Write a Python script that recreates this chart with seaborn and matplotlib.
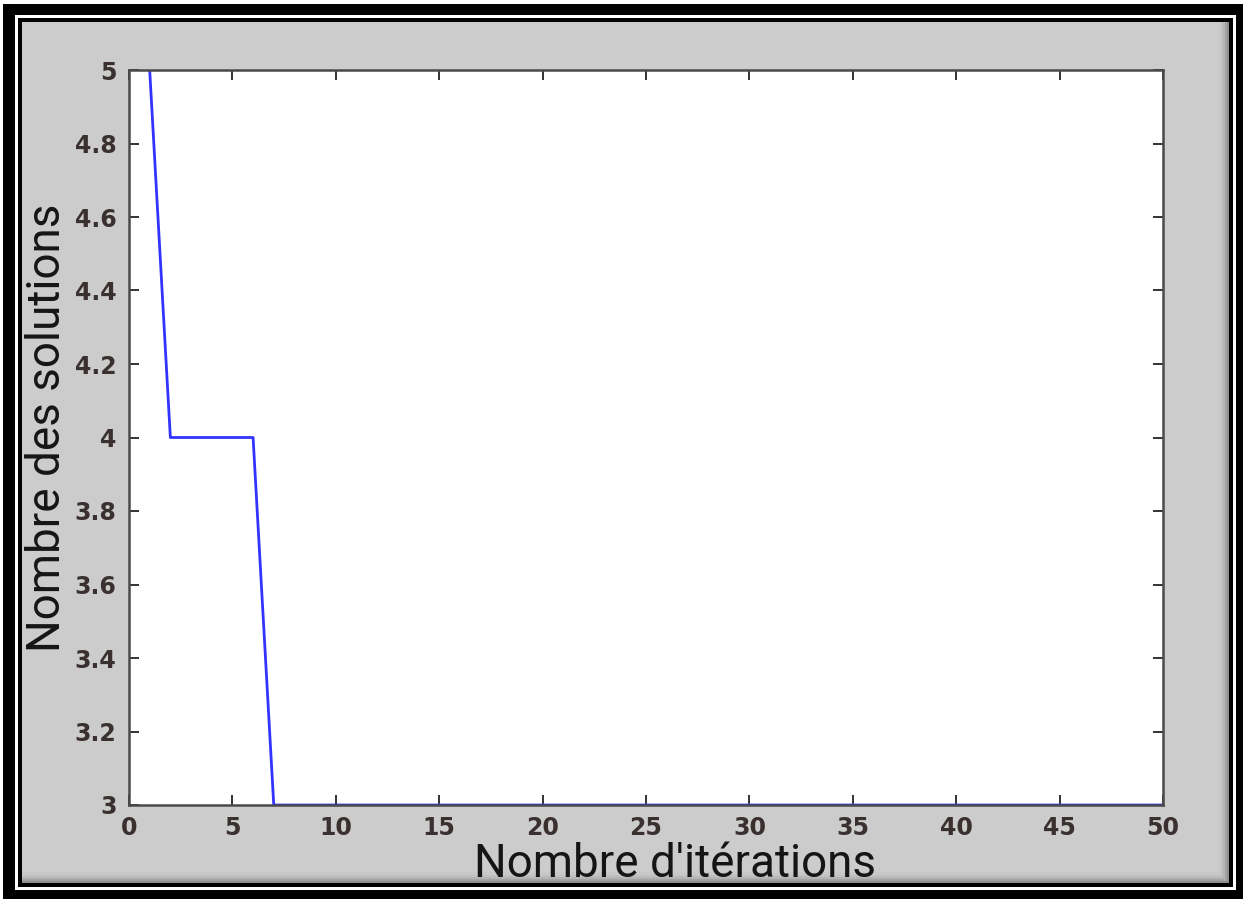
import matplotlib
matplotlib.use("Agg")
import matplotlib.pyplot as plt
from matplotlib.patches import Rectangle
import pandas as pd
import seaborn as sns

# iteration number vs number of solutions kept
iterations = list(range(1, 51))
solutions = [5] + [4] * 5 + [3] * 44

x_ticks = [0, 5, 10, 15, 20, 25, 30, 35, 40, 45, 50]
y_ticks = [3, 3.2, 3.4, 3.6, 3.8, 4, 4.2, 4.4, 4.6, 4.8, 5]
y_tick_labels = ["3", "3.2", "3.4", "3.6", "3.8", "4", "4.2", "4.4", "4.6", "4.8", "5"]

df = pd.DataFrame({"iteration": iterations, "solutions": solutions})

W, H = 1246, 901
fig = plt.figure(figsize=(W / 100, H / 100), dpi=100)
fig.patch.set_facecolor("white")

# background axes in pixel coordinates for the window frame
bg = fig.add_axes([0, 0, 1, 1], zorder=-1)
bg.set_xlim(0, W)
bg.set_ylim(H, 0)
bg.axis("off")


def px_rect(x0, y0, x1, y1, color):
    bg.add_patch(Rectangle((x0, y0), x1 - x0, y1 - y0, facecolor=color, edgecolor="none"))


px_rect(3, 4, 1243, 899, "black")
px_rect(15, 15, 1236, 890, "white")
px_rect(18, 18, 1233, 887, "black")
# soft shadow on the right and bottom of the grey panel
for i, c in enumerate(["#8f8f8f", "#a4a4a4", "#b4b4b4", "#c0c0c0", "#c8c8c8"]):
    px_rect(22, 22, 1229 - 2 * i, 883 - 2 * i, c)
px_rect(22, 22, 1218, 872, "#cccccc")

ax = fig.add_axes([129 / W, 1 - 805 / H, (1163 - 129) / W, (805 - 70) / H], zorder=1)
ax.set_facecolor("white")

sns.lineplot(data=df, x="iteration", y="solutions", color="#3333ff",
             linewidth=2, ax=ax)

ax.set_xlim(0, 50)
ax.set_ylim(3, 5)
ax.set_xticks(x_ticks)
ax.set_yticks(y_ticks)
ax.set_yticklabels(y_tick_labels)

for side in ["left", "right", "top", "bottom"]:
    ax.spines[side].set_color("#4a4a4a")
    ax.spines[side].set_linewidth(1.8)

ax.tick_params(direction="in", length=7, width=1.4, color="#333333",
               top=True, right=True, labelsize=17, labelcolor="#3a3030")
ax.tick_params(axis="x", pad=8)
ax.tick_params(axis="y", pad=9)
for lab in ax.get_xticklabels() + ax.get_yticklabels():
    lab.set_family(["DejaVu Sans"])
    lab.set_fontweight("bold")

ax.set_xlabel("Nombre d'itérations", fontsize=33, family=["Roboto", "DejaVu Sans"],
              color="#151515", va="center")
ax.set_ylabel("Nombre des solutions", fontsize=33, family=["Roboto", "DejaVu Sans"],
              color="#151515", va="center")
ax.xaxis.set_label_coords((675 - 129) / 1034, -(864 - 805) / 735)
ax.yaxis.set_label_coords(-(129 - 47) / 1034, 1 - (428 - 70) / 735)

fig.savefig("out.png", dpi=100)
